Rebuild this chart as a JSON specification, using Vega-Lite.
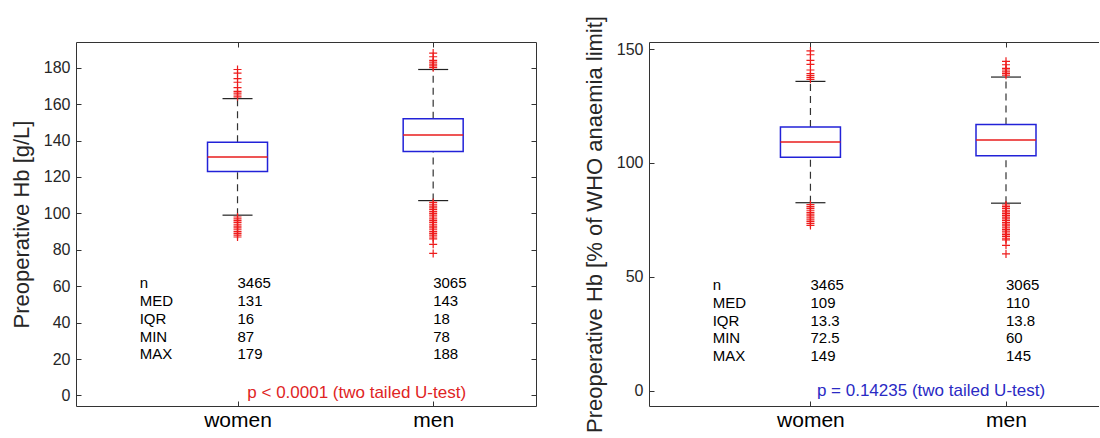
{
  "$schema": "https://vega.github.io/schema/vega-lite/v6.json",
  "background": "white",
  "padding": {"left": 10, "top": 15, "right": 0, "bottom": 0},
  "spacing": 113,
  "bounds": "flush",
  "config": {
    "font": "Liberation Sans",
    "view": {"stroke": null},
    "axis": {"domainColor": "#333333", "tickColor": "#333333", "labelColor": "#262626", "titleColor": "#262626", "grid": false, "labelFont": "Liberation Sans", "titleFont": "Liberation Sans", "titleFontWeight": "normal", "domainWidth": 1, "tickWidth": 1}
  },
  "datasets": {
    "boxL": [
      {"g": "women", "x": 1, "lo": 99, "q1": 123, "med": 131, "q3": 139, "hi": 163},
      {"g": "men", "x": 2, "lo": 107, "q1": 134, "med": 143, "q3": 152, "hi": 179}
    ],
    "boxR": [
      {"g": "women", "x": 1, "lo": 82.5, "q1": 102.5, "med": 109.2, "q3": 115.8, "hi": 135.8},
      {"g": "men", "x": 2, "lo": 82.3, "q1": 103.1, "med": 110, "q3": 116.9, "hi": 137.7}
    ],
    "outL": [
      {"x": 1, "v": 164}, {"x": 1, "v": 165}, {"x": 1, "v": 166}, {"x": 1, "v": 167}, {"x": 1, "v": 169}, {"x": 1, "v": 172}, {"x": 1, "v": 174}, {"x": 1, "v": 177}, {"x": 1, "v": 179},
      {"x": 1, "v": 98}, {"x": 1, "v": 97}, {"x": 1, "v": 96}, {"x": 1, "v": 95}, {"x": 1, "v": 94}, {"x": 1, "v": 93}, {"x": 1, "v": 92}, {"x": 1, "v": 91}, {"x": 1, "v": 90}, {"x": 1, "v": 89}, {"x": 1, "v": 88}, {"x": 1, "v": 87},
      {"x": 2, "v": 180}, {"x": 2, "v": 181}, {"x": 2, "v": 182}, {"x": 2, "v": 183}, {"x": 2, "v": 184}, {"x": 2, "v": 186}, {"x": 2, "v": 188},
      {"x": 2, "v": 106}, {"x": 2, "v": 105}, {"x": 2, "v": 104}, {"x": 2, "v": 103}, {"x": 2, "v": 102}, {"x": 2, "v": 101}, {"x": 2, "v": 100}, {"x": 2, "v": 99}, {"x": 2, "v": 98}, {"x": 2, "v": 97}, {"x": 2, "v": 96}, {"x": 2, "v": 95}, {"x": 2, "v": 94}, {"x": 2, "v": 93}, {"x": 2, "v": 92}, {"x": 2, "v": 91}, {"x": 2, "v": 90}, {"x": 2, "v": 89}, {"x": 2, "v": 88}, {"x": 2, "v": 87}, {"x": 2, "v": 86}, {"x": 2, "v": 83}, {"x": 2, "v": 78}
    ],
    "outR": [
      {"x": 1, "v": 136.7}, {"x": 1, "v": 137.5}, {"x": 1, "v": 138.3}, {"x": 1, "v": 139.2}, {"x": 1, "v": 140.8}, {"x": 1, "v": 143.3}, {"x": 1, "v": 145}, {"x": 1, "v": 147.5}, {"x": 1, "v": 149.2},
      {"x": 1, "v": 81.7}, {"x": 1, "v": 80.8}, {"x": 1, "v": 80}, {"x": 1, "v": 79.2}, {"x": 1, "v": 78.3}, {"x": 1, "v": 77.5}, {"x": 1, "v": 76.7}, {"x": 1, "v": 75.8}, {"x": 1, "v": 75}, {"x": 1, "v": 74.2}, {"x": 1, "v": 73.3}, {"x": 1, "v": 72.5},
      {"x": 2, "v": 138.5}, {"x": 2, "v": 139.2}, {"x": 2, "v": 140}, {"x": 2, "v": 140.8}, {"x": 2, "v": 141.5}, {"x": 2, "v": 143.1}, {"x": 2, "v": 144.6},
      {"x": 2, "v": 81.5}, {"x": 2, "v": 80.8}, {"x": 2, "v": 80}, {"x": 2, "v": 79.2}, {"x": 2, "v": 78.5}, {"x": 2, "v": 77.7}, {"x": 2, "v": 76.9}, {"x": 2, "v": 76.2}, {"x": 2, "v": 75.4}, {"x": 2, "v": 74.6}, {"x": 2, "v": 73.8}, {"x": 2, "v": 73.1}, {"x": 2, "v": 72.3}, {"x": 2, "v": 71.5}, {"x": 2, "v": 70.8}, {"x": 2, "v": 70}, {"x": 2, "v": 69.2}, {"x": 2, "v": 68.5}, {"x": 2, "v": 67.7}, {"x": 2, "v": 66.9}, {"x": 2, "v": 66.2}, {"x": 2, "v": 63.8}, {"x": 2, "v": 60}
    ],
    "statL": [
      {"x": 0.5, "y": 61.5, "t": "n"}, {"x": 1, "y": 61.5, "t": "3465"}, {"x": 2, "y": 61.5, "t": "3065"},
      {"x": 0.5, "y": 51.7, "t": "MED"}, {"x": 1, "y": 51.7, "t": "131"}, {"x": 2, "y": 51.7, "t": "143"},
      {"x": 0.5, "y": 42, "t": "IQR"}, {"x": 1, "y": 42, "t": "16"}, {"x": 2, "y": 42, "t": "18"},
      {"x": 0.5, "y": 32.2, "t": "MIN"}, {"x": 1, "y": 32.2, "t": "87"}, {"x": 2, "y": 32.2, "t": "78"},
      {"x": 0.5, "y": 22.5, "t": "MAX"}, {"x": 1, "y": 22.5, "t": "179"}, {"x": 2, "y": 22.5, "t": "188"}
    ],
    "statR": [
      {"x": 0.5, "y": 46.3, "t": "n"}, {"x": 1, "y": 46.3, "t": "3465"}, {"x": 2, "y": 46.3, "t": "3065"},
      {"x": 0.5, "y": 38.4, "t": "MED"}, {"x": 1, "y": 38.4, "t": "109"}, {"x": 2, "y": 38.4, "t": "110"},
      {"x": 0.5, "y": 30.5, "t": "IQR"}, {"x": 1, "y": 30.5, "t": "13.3"}, {"x": 2, "y": 30.5, "t": "13.8"},
      {"x": 0.5, "y": 23.1, "t": "MIN"}, {"x": 1, "y": 23.1, "t": "72.5"}, {"x": 2, "y": 23.1, "t": "60"},
      {"x": 0.5, "y": 15.1, "t": "MAX"}, {"x": 1, "y": 15.1, "t": "149"}, {"x": 2, "y": 15.1, "t": "145"}
    ],
    "pL": [{"x": 1.05, "y": 1.3, "t": "p < 0.0001 (two tailed U-test)"}],
    "pR": [{"x": 1.033, "y": -0.2, "t": "p = 0.14235 (two tailed U-test)"}]
  },
  "hconcat": [
    {
      "width": 460,
      "height": 364,
      "resolve": {"axis": {"x": "independent", "y": "independent"}},
      "layer": [
        {
          "encoding": {
            "x": {"field": "x", "type": "quantitative", "scale": {"domain": [0.2, 2.5], "nice": false, "zero": false},
                  "axis": {"orient": "bottom", "values": [1, 2], "labelExpr": "datum.value == 1 ? 'women' : 'men'", "tickSize": -5, "labelPadding": 8, "labelFontSize": 21, "labelColor": "#000000", "title": null}}
          },
          "layer": [
            {
              "data": {"name": "boxL"},
              "mark": {"type": "rule", "strokeDash": [7, 5], "color": "#333333", "strokeWidth": 1.2},
              "encoding": {
                "y": {"field": "q3", "type": "quantitative", "scale": {"domain": [-5.8, 194.1], "nice": false, "zero": false},
                      "axis": {"orient": "left", "values": [0, 20, 40, 60, 80, 100, 120, 140, 160, 180], "tickSize": -5, "labelPadding": 11, "labelFontSize": 16, "title": "Preoperative Hb [g/L]", "titleFontSize": 22, "titlePadding": 10}},
                "y2": {"field": "hi"}
              }
            },
            {
              "data": {"name": "boxL"},
              "mark": {"type": "rule", "strokeDash": [7, 5], "color": "#333333", "strokeWidth": 1.2},
              "encoding": {"y": {"field": "lo", "type": "quantitative"}, "y2": {"field": "q1"}}
            },
            {
              "data": {"name": "boxL"},
              "mark": {"type": "tick", "orient": "horizontal", "size": 30, "thickness": 1.2, "color": "#222222", "opacity": 1},
              "encoding": {"y": {"field": "hi", "type": "quantitative"}}
            },
            {
              "data": {"name": "boxL"},
              "mark": {"type": "tick", "orient": "horizontal", "size": 30, "thickness": 1.2, "color": "#222222", "opacity": 1},
              "encoding": {"y": {"field": "lo", "type": "quantitative"}}
            },
            {
              "data": {"name": "boxL"},
              "mark": {"type": "bar", "width": 60, "filled": false, "stroke": "#2222d8", "strokeWidth": 1.5, "opacity": 1},
              "encoding": {"y": {"field": "q1", "type": "quantitative"}, "y2": {"field": "q3"}}
            },
            {
              "data": {"name": "boxL"},
              "mark": {"type": "tick", "orient": "horizontal", "size": 60, "thickness": 1.5, "color": "#e81c1c", "opacity": 1},
              "encoding": {"y": {"field": "med", "type": "quantitative"}}
            },
            {
              "data": {"name": "outL"},
              "mark": {"type": "point", "shape": "M-1,0L1,0M0,-1L0,1", "filled": false, "size": 64, "stroke": "#ee1c1c", "strokeWidth": 1.2, "opacity": 1},
              "encoding": {"y": {"field": "v", "type": "quantitative"}}
            },
            {
              "data": {"name": "statL"},
              "mark": {"type": "text", "align": "left", "baseline": "middle", "fontSize": 15, "color": "#000000"},
              "encoding": {"y": {"field": "y", "type": "quantitative"}, "text": {"field": "t"}}
            },
            {
              "data": {"name": "pL"},
              "mark": {"type": "text", "align": "left", "baseline": "middle", "fontSize": 17, "color": "#e02424"},
              "encoding": {"y": {"field": "y", "type": "quantitative"}, "text": {"field": "t"}}
            }
          ]
        },
        {
          "data": {"name": "boxL"},
          "mark": {"type": "point", "opacity": 0},
          "encoding": {
            "x": {"field": "x", "type": "quantitative", "scale": {"domain": [0.2, 2.5], "nice": false, "zero": false},
                  "axis": {"orient": "top", "values": [1, 2], "labels": false, "tickSize": -5, "title": null}},
            "y": {"field": "med", "type": "quantitative", "scale": {"domain": [-5.8, 194.1], "nice": false, "zero": false},
                  "axis": {"orient": "right", "values": [0, 20, 40, 60, 80, 100, 120, 140, 160, 180], "labels": false, "tickSize": -5, "title": null}}
          }
        }
      ]
    },
    {
      "width": 450,
      "height": 364,
      "resolve": {"axis": {"x": "independent", "y": "independent"}},
      "layer": [
        {
          "encoding": {
            "x": {"field": "x", "type": "quantitative", "scale": {"domain": [0.2, 2.45], "nice": false, "zero": false},
                  "axis": {"orient": "bottom", "values": [1, 2], "labelExpr": "datum.value == 1 ? 'women' : 'men'", "tickSize": -5, "labelPadding": 8, "labelFontSize": 21, "labelColor": "#000000", "title": null}}
          },
          "layer": [
            {
              "data": {"name": "boxR"},
              "mark": {"type": "rule", "strokeDash": [7, 5], "color": "#333333", "strokeWidth": 1.2},
              "encoding": {
                "y": {"field": "q3", "type": "quantitative", "scale": {"domain": [-6.8, 153.1], "nice": false, "zero": false},
                      "axis": {"orient": "left", "values": [0, 50, 100, 150], "tickSize": -5, "labelPadding": 11, "labelFontSize": 16, "title": "Preoperative Hb [% of WHO anaemia limit]", "titleFontSize": 22, "titlePadding": 10}},
                "y2": {"field": "hi"}
              }
            },
            {
              "data": {"name": "boxR"},
              "mark": {"type": "rule", "strokeDash": [7, 5], "color": "#333333", "strokeWidth": 1.2},
              "encoding": {"y": {"field": "lo", "type": "quantitative"}, "y2": {"field": "q1"}}
            },
            {
              "data": {"name": "boxR"},
              "mark": {"type": "tick", "orient": "horizontal", "size": 30, "thickness": 1.2, "color": "#222222", "opacity": 1},
              "encoding": {"y": {"field": "hi", "type": "quantitative"}}
            },
            {
              "data": {"name": "boxR"},
              "mark": {"type": "tick", "orient": "horizontal", "size": 30, "thickness": 1.2, "color": "#222222", "opacity": 1},
              "encoding": {"y": {"field": "lo", "type": "quantitative"}}
            },
            {
              "data": {"name": "boxR"},
              "mark": {"type": "bar", "width": 60, "filled": false, "stroke": "#2222d8", "strokeWidth": 1.5, "opacity": 1},
              "encoding": {"y": {"field": "q1", "type": "quantitative"}, "y2": {"field": "q3"}}
            },
            {
              "data": {"name": "boxR"},
              "mark": {"type": "tick", "orient": "horizontal", "size": 60, "thickness": 1.5, "color": "#e81c1c", "opacity": 1},
              "encoding": {"y": {"field": "med", "type": "quantitative"}}
            },
            {
              "data": {"name": "outR"},
              "mark": {"type": "point", "shape": "M-1,0L1,0M0,-1L0,1", "filled": false, "size": 64, "stroke": "#ee1c1c", "strokeWidth": 1.2, "opacity": 1},
              "encoding": {"y": {"field": "v", "type": "quantitative"}}
            },
            {
              "data": {"name": "statR"},
              "mark": {"type": "text", "align": "left", "baseline": "middle", "fontSize": 15, "color": "#000000"},
              "encoding": {"y": {"field": "y", "type": "quantitative"}, "text": {"field": "t"}}
            },
            {
              "data": {"name": "pR"},
              "mark": {"type": "text", "align": "left", "baseline": "middle", "fontSize": 17, "color": "#2a2ac4"},
              "encoding": {"y": {"field": "y", "type": "quantitative"}, "text": {"field": "t"}}
            }
          ]
        },
        {
          "data": {"name": "boxR"},
          "mark": {"type": "point", "opacity": 0},
          "encoding": {
            "x": {"field": "x", "type": "quantitative", "scale": {"domain": [0.2, 2.45], "nice": false, "zero": false},
                  "axis": {"orient": "top", "values": [1, 2], "labels": false, "tickSize": -5, "title": null}},
            "y": {"field": "med", "type": "quantitative", "scale": {"domain": [-6.8, 153.1], "nice": false, "zero": false}, "axis": null}
          }
        }
      ]
    }
  ]
}
